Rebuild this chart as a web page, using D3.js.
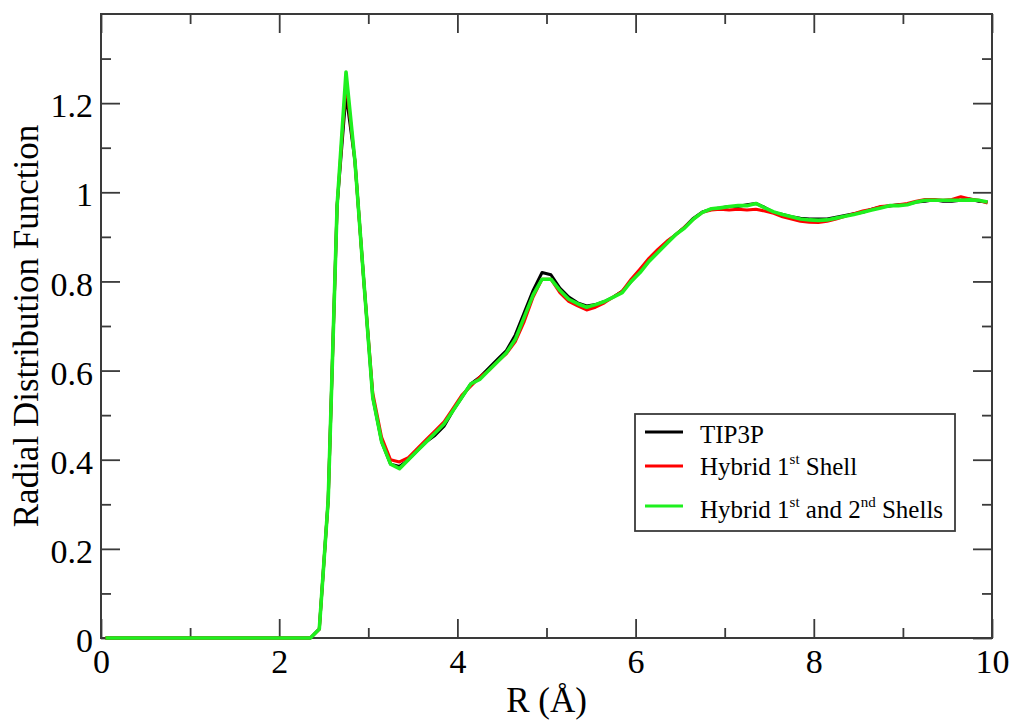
<!DOCTYPE html>
<html><head><meta charset="utf-8">
<script src="https://cdn.jsdelivr.net/npm/d3@7/dist/d3.min.js"></script>
<style>
html,body{margin:0;padding:0;background:#fff;}
svg{display:block;}
text{font-family:"Liberation Serif","Times New Roman",serif;fill:#000;}
</style></head>
<body>
<svg id="chart" width="1015" height="721"></svg>
<script>
// ---- data ----
const r = [0.05,0.15,0.25,0.35,0.45,0.55,0.65,0.75,0.85,0.95,1.05,1.15,1.25,1.35,1.45,1.55,1.65,1.75,1.85,1.95,2.05,2.15,2.25,2.35,
  2.45,2.55,2.65,2.75,2.85,2.95,3.05,3.15,3.25,3.35,3.45,3.55,3.65,3.75,3.85,3.95,4.05,4.15,4.25,4.35,4.45,4.55,4.65,4.75,4.85,4.95,
  5.05,5.15,5.25,5.35,5.45,5.55,5.65,5.75,5.85,5.95,6.05,6.15,6.25,6.35,6.45,6.55,6.65,6.75,6.85,6.95,7.05,7.15,7.25,7.35,7.45,
  7.55,7.65,7.75,7.85,7.95,8.05,8.15,8.25,8.35,8.45,8.55,8.65,8.75,8.85,8.95,9.05,9.15,9.25,9.35,9.45,9.55,9.65,9.75,9.85,9.95];

const tip3p = [0,0,0,0,0,0,0,0,0,0,0,0,0,0,0,0,0,0,0,0,0,0,0,0,
  0.02,0.31,0.97,1.22,1.07,0.80,0.54,0.44,0.39,0.385,0.40,0.42,0.44,0.455,0.475,0.51,0.54,0.57,0.585,0.605,0.625,0.645,0.68,0.73,0.78,0.82,
  0.815,0.785,0.765,0.752,0.745,0.748,0.755,0.765,0.778,0.80,0.822,0.848,0.868,0.888,0.905,0.922,0.942,0.956,0.962,0.965,0.968,0.968,0.972,0.975,0.966,
  0.955,0.95,0.945,0.942,0.94,0.94,0.94,0.944,0.948,0.952,0.955,0.962,0.967,0.969,0.972,0.973,0.978,0.98,0.983,0.98,0.98,0.982,0.985,0.98,0.978];

const hybrid1 = [0,0,0,0,0,0,0,0,0,0,0,0,0,0,0,0,0,0,0,0,0,0,0,0,
  0.02,0.31,0.97,1.25,1.07,0.80,0.55,0.45,0.40,0.395,0.405,0.425,0.445,0.465,0.485,0.515,0.545,0.565,0.585,0.6,0.62,0.638,0.665,0.71,0.765,0.805,
  0.805,0.775,0.755,0.745,0.736,0.742,0.752,0.765,0.778,0.805,0.828,0.852,0.872,0.89,0.905,0.922,0.94,0.955,0.96,0.962,0.96,0.962,0.96,0.962,0.958,
  0.953,0.945,0.94,0.935,0.933,0.932,0.935,0.94,0.946,0.952,0.958,0.962,0.968,0.97,0.972,0.975,0.98,0.984,0.984,0.982,0.984,0.99,0.985,0.982,0.976];

const hybrid12 = [0,0,0,0,0,0,0,0,0,0,0,0,0,0,0,0,0,0,0,0,0,0,0,0,
  0.02,0.31,0.97,1.27,1.07,0.80,0.54,0.44,0.39,0.38,0.40,0.42,0.44,0.46,0.48,0.51,0.54,0.57,0.58,0.60,0.62,0.64,0.67,0.72,0.77,0.805,
  0.805,0.78,0.76,0.75,0.742,0.748,0.755,0.765,0.775,0.80,0.82,0.845,0.865,0.885,0.905,0.92,0.94,0.955,0.963,0.965,0.968,0.970,0.970,0.975,0.965,
  0.956,0.95,0.945,0.94,0.938,0.937,0.938,0.942,0.946,0.95,0.955,0.96,0.965,0.97,0.97,0.972,0.978,0.982,0.982,0.982,0.982,0.982,0.983,0.982,0.978];

const seriesNames = ["TIP3P", "Hybrid 1", "Hybrid 1"];
const xMajor = [0,2,4,6,8,10];
const xMinor = [1,3,5,7,9];
const yMajor = [0,0.2,0.4,0.6,0.8,1,1.2];
const yMinor = [0.1,0.3,0.5,0.7,0.9,1.1,1.3];
const xTickLabels = ["0","2","4","6","8","10"];
const yTickLabels = ["0","0.2","0.4","0.6","0.8","1","1.2"];

// ---- layout ----
const svg = d3.select("#chart");
const L = 101, R = 992, T = 14, B = 638;
const x = d3.scaleLinear().domain([0,10]).range([L,R]);
const y = d3.scaleLinear().domain([0,1.4]).range([B,T]);
const axisColor = "#3a3a3a";

function styleAxis(g){
  g.select(".domain").remove();
  g.selectAll(".tick line").attr("stroke", axisColor).attr("stroke-width", 1.8);
}

// bottom
svg.append("g").attr("transform",`translate(0,${B})`)
  .call(d3.axisBottom(x).tickValues(xMajor).tickSize(-19).tickPadding(11).tickFormat((d,i)=>xTickLabels[i]))
  .call(styleAxis)
  .call(g=>g.selectAll("text").attr("font-size",34).attr("font-family","Liberation Serif").attr("fill","#000"));
svg.append("g").attr("transform",`translate(0,${B})`)
  .call(d3.axisBottom(x).tickValues(xMinor).tickSize(-10).tickFormat(""))
  .call(styleAxis);
// top
svg.append("g").attr("transform",`translate(0,${T})`)
  .call(d3.axisTop(x).tickValues(xMajor).tickSize(-19).tickFormat(""))
  .call(styleAxis);
svg.append("g").attr("transform",`translate(0,${T})`)
  .call(d3.axisTop(x).tickValues(xMinor).tickSize(-10).tickFormat(""))
  .call(styleAxis);
// left
svg.append("g").attr("transform",`translate(${L},0)`)
  .call(d3.axisLeft(y).tickValues(yMajor).tickSize(-19).tickPadding(8).tickFormat((d,i)=>yTickLabels[i]))
  .call(styleAxis)
  .call(g=>g.selectAll("text").attr("font-size",34).attr("font-family","Liberation Serif").attr("fill","#000").attr("dy","0.4em"));
svg.append("g").attr("transform",`translate(${L},0)`)
  .call(d3.axisLeft(y).tickValues(yMinor).tickSize(-10).tickFormat(""))
  .call(styleAxis);
// right
svg.append("g").attr("transform",`translate(${R},0)`)
  .call(d3.axisRight(y).tickValues(yMajor).tickSize(-19).tickFormat(""))
  .call(styleAxis);
svg.append("g").attr("transform",`translate(${R},0)`)
  .call(d3.axisRight(y).tickValues(yMinor).tickSize(-10).tickFormat(""))
  .call(styleAxis);

// frame
svg.append("rect").attr("x",L).attr("y",T).attr("width",R-L).attr("height",B-T)
  .attr("fill","none").attr("stroke",axisColor).attr("stroke-width",2);

// lines
const line = d3.line().x((d,i)=>x(r[i])).y(d=>y(d));
const series = [
  {vals: tip3p, color:"#000000", w:3},
  {vals: hybrid1, color:"#ff0000", w:3},
  {vals: hybrid12, color:"#1ef01e", w:3.6}
];
series.forEach(s=>{
  svg.append("path").datum(s.vals).attr("d",line)
    .attr("fill","none").attr("stroke",s.color).attr("stroke-width",s.w)
    .attr("stroke-linejoin","round");
});

// axis titles
svg.append("text").attr("x",(L+R)/2).attr("y",712).attr("text-anchor","middle")
  .attr("font-size",35).text("R (Å)");
svg.append("text").attr("transform",`translate(38,${(T+B)/2}) rotate(-90)`)
  .attr("text-anchor","middle").attr("font-size",35).text("Radial Distribution Function");

// legend
const lg = svg.append("g");
lg.append("rect").attr("x",635).attr("y",414).attr("width",320).attr("height",117)
  .attr("fill","#fff").attr("stroke",axisColor).attr("stroke-width",1.8);
const legY = [432, 466, 506];
const legBase = [443, 475, 518];
series.forEach((s,i)=>{
  lg.append("line").attr("x1",645).attr("x2",683).attr("y1",legY[i]).attr("y2",legY[i])
    .attr("stroke",s.color).attr("stroke-width",3);
});
const fs = 25, sup = 15;
lg.append("text").attr("x",700).attr("y",legBase[0]).attr("font-size",fs).text(seriesNames[0]);
const t2 = lg.append("text").attr("x",700).attr("y",legBase[1]).attr("font-size",fs);
t2.append("tspan").text(seriesNames[1]);
t2.append("tspan").attr("font-size",sup).attr("dy",-11).text("st");
t2.append("tspan").attr("dy",11).text(" Shell");
const t3 = lg.append("text").attr("x",700).attr("y",legBase[2]).attr("font-size",fs);
t3.append("tspan").text(seriesNames[2]);
t3.append("tspan").attr("font-size",sup).attr("dy",-11).text("st");
t3.append("tspan").attr("dy",11).text(" and 2");
t3.append("tspan").attr("font-size",sup).attr("dy",-11).text("nd");
t3.append("tspan").attr("dy",11).text(" Shells");
</script>
</body></html>
